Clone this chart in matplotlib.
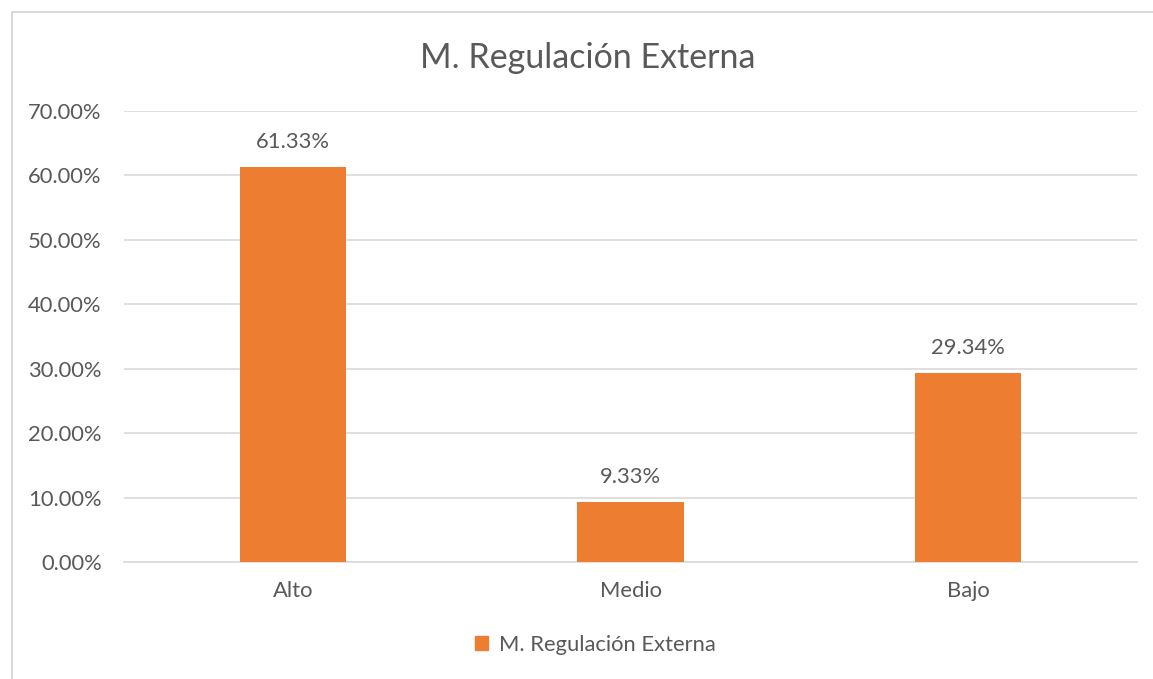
import matplotlib
matplotlib.use("Agg")
import matplotlib.pyplot as plt
from matplotlib.patches import Rectangle, Patch
from matplotlib.ticker import FuncFormatter, MultipleLocator

categories = ["Alto", "Medio", "Bajo"]
values = [61.33, 9.33, 29.34]
labels = ["61.33%", "9.33%", "29.34%"]
series_name = "M. Regulación Externa"
title = "M. Regulación Externa"

plt.rcParams['font.family'] = ['Lato', 'DejaVu Sans']
W, H = 1153, 679
fig = plt.figure(figsize=(W/100, H/100), dpi=100)
text_color = "#595959"
bar_color = "#ED7D31"

# chart border
fig.patches.append(Rectangle((12/W, -0.01), 1.2, 1 - 12/H + 0.01, transform=fig.transFigure,
                             fill=False, edgecolor="#D9D9D9", linewidth=1.5))

ax = fig.add_axes([124/W, 1 - 562/H, (1137 - 124)/W, (562 - 111)/H])
x = list(range(len(categories)))
ax.bar(x, values, width=0.314, color=bar_color, zorder=3)
ax.set_xlim(-0.5, len(categories) - 0.5)
ax.set_ylim(0, 70)
ax.yaxis.set_major_locator(MultipleLocator(10))
ax.yaxis.set_major_formatter(FuncFormatter(lambda v, p: f"{v:.2f}%"))
ax.grid(axis='y', color="#D9D9D9", linewidth=1.2, zorder=0)
for s in ["top", "right", "left"]:
    ax.spines[s].set_visible(False)
ax.spines["bottom"].set_color("#D9D9D9")
ax.spines["bottom"].set_linewidth(1.2)
ax.set_xticks(x)
ax.set_xticklabels(categories)
ax.tick_params(axis='both', length=0, labelsize=15.8, colors=text_color)
ax.tick_params(axis='x', pad=14)
ax.tick_params(axis='y', pad=16)
for xi, v, lab in zip(x, values, labels):
    ax.annotate(lab, (xi, v), xytext=(0, 11), textcoords="offset points",
                ha="center", va="bottom", fontsize=15.8, color=text_color)

fig.text(588/W, 1 - 58/H, title, ha="center", va="center", fontsize=24.5, color=text_color)
fig.legend(handles=[Patch(color=bar_color, label=series_name)], loc="center",
           bbox_to_anchor=(595/W, 1 - 645/H), frameon=False, fontsize=15.8,
           labelcolor=text_color, handlelength=0.6, handleheight=0.6, handletextpad=0.5)

fig.savefig("out.png", dpi=100)
